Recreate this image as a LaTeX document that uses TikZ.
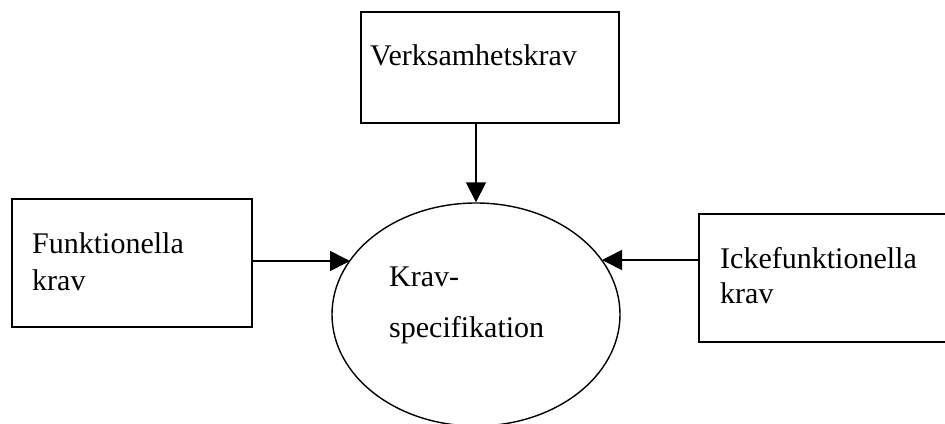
\documentclass[tikz,border=0pt]{standalone}
\usepackage{fontspec}
\setmainfont{Liberation Serif}
\usetikzlibrary{arrows.meta,shapes.geometric}
\begin{document}
\begin{tikzpicture}[x=1pt,y=-1pt,
  box/.style={draw,line width=1.6pt,rectangle,inner sep=0pt},
  txt/.style={anchor=base west,inner sep=0pt,font=\fontsize{30}{37}\selectfont},
  arr/.style={line width=1.6pt,-{Triangle[length=20pt,width=20pt]}}]
\useasboundingbox (0,0) rectangle (945,423);
\clip (0,0) rectangle (945,423);
\node[box,minimum width=258pt,minimum height=111pt] (vk) at (490,67.5) {};
\node[box,minimum width=240pt,minimum height=128pt] (fk) at (132,263) {};
\node[box,minimum width=262pt,minimum height=128pt] (ik) at (830,278) {};
\node[draw,line width=1.4pt,ellipse,inner sep=0pt,minimum width=288pt,minimum height=223pt] (ks) at (476,314.5) {};
\node[txt] (t1) at (370,65) {Verksamhetskrav};
\node[txt] (t2) at (32,253) {Funktionella};
\node[txt] (t3) at (32,290) {krav};
\node[txt] (t4) at (720,268) {Ickefunktionella};
\node[txt] (t5) at (720,303) {krav};
\node[txt] (t6) at (389,286) {Krav-};
\node[txt] (t7) at (389,337) {specifikation};
\coordinate (lt) at (350,261);
\coordinate (rt) at (602,260);
\draw[arr] (vk.south -| ks.north) -- (ks.north);
\draw[arr] (fk.east |- lt) -- (lt);
\draw[arr] (ik.west |- rt) -- (rt);
\end{tikzpicture}
\end{document}
